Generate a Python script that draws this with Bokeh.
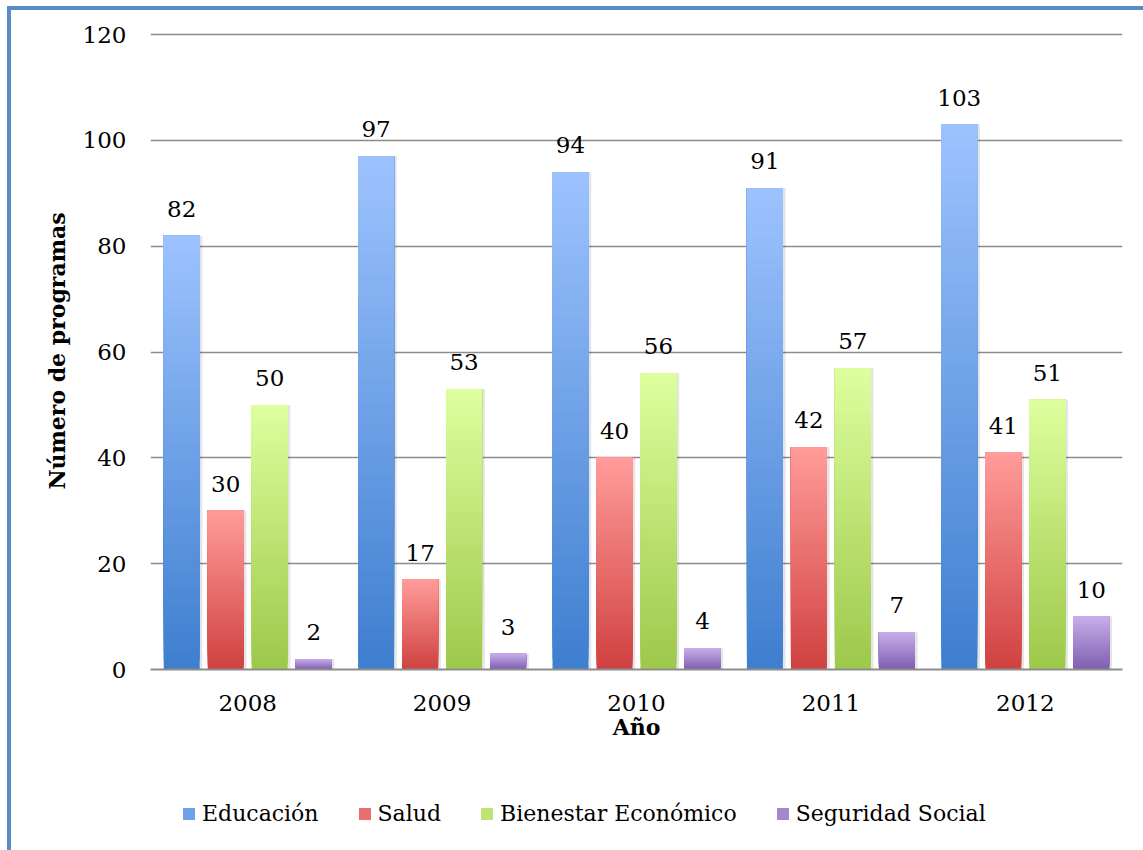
import numpy as np
from bokeh.plotting import figure
from bokeh.layouts import column
from bokeh.models import (ColumnDataSource, FactorRange, Range1d, Legend, LegendItem,
                          FixedTicker)
from bokeh.transform import dodge
from bokeh.core.properties import value
from bokeh.embed import file_html
from bokeh.resources import INLINE

# ---------------- data ----------------
years = ["2008", "2009", "2010", "2011", "2012"]
educacion = [82, 97, 94, 91, 103]
salud = [30, 17, 40, 42, 41]
bienestar = [50, 53, 56, 57, 51]
seguridad = [2, 3, 4, 7, 10]
series_names = ["Educación", "Salud", "Bienestar Económico", "Seguridad Social"]
y_ticks = [0, 20, 40, 60, 80, 100, 120]

# ---------------- style ----------------
series_values = [educacion, salud, bienestar, seguridad]
top_colors = ["#9DC3FF", "#FF9C9A", "#DDFF9E", "#C7AEEB"]
bottom_colors = ["#3E7ECE", "#D04140", "#9DC84A", "#7F5EAE"]
offsets = [-0.3395, -0.113, 0.113, 0.3395]
bar_w = 0.185
N_SLICES = 48
FONT = "DejaVu Serif"
GRID = "#8C8C8C"
FRAME_BLUE = "#5B8CC6"


def hex2rgb(h):
    h = h.lstrip("#")
    return np.array([int(h[i:i + 2], 16) for i in (0, 2, 4)], dtype=float)


def mix(c_bottom, c_top, t):
    a, b = hex2rgb(c_bottom), hex2rgb(c_top)
    c = a + (b - a) * t
    return "#%02x%02x%02x" % tuple(int(round(v)) for v in c)


x_range = FactorRange(*years, range_padding=0)
chart = figure(width=1132, height=739, x_range=x_range,
               y_range=Range1d(0, 120.4), output_backend="svg", toolbar_location=None,
               min_border_left=139, min_border_right=21, min_border_top=22,
               min_border_bottom=80)
chart.outline_line_color = None
chart.background_fill_color = "white"
chart.border_fill_color = "white"

# grid
chart.xgrid.grid_line_color = None
chart.ygrid.grid_line_color = GRID
chart.ygrid.grid_line_width = 1.6
chart.yaxis.ticker = FixedTicker(ticks=y_ticks)

# axes
chart.yaxis.axis_line_color = None
chart.yaxis.major_tick_line_color = None
chart.yaxis.minor_tick_line_color = None
chart.yaxis.major_label_standoff = 18
chart.yaxis.major_label_text_font = FONT
chart.yaxis.major_label_text_font_size = "23px"
chart.yaxis.major_label_text_color = "black"
chart.yaxis.axis_label = "Número de programas"
chart.yaxis.axis_label_text_font = FONT
chart.yaxis.axis_label_text_font_style = "bold"
chart.yaxis.axis_label_text_font_size = "22px"
chart.yaxis.axis_label_text_color = "black"
chart.yaxis.axis_label_standoff = 10

chart.xaxis.axis_line_color = GRID
chart.xaxis.axis_line_width = 2
chart.xaxis.major_tick_line_color = None
chart.xaxis.minor_tick_line_color = None
chart.xaxis.major_label_standoff = 19
chart.xaxis.major_label_text_font = FONT
chart.xaxis.major_label_text_font_size = "23px"
chart.xaxis.major_label_text_color = "black"
chart.xaxis.axis_label = "Año"
chart.xaxis.axis_label_text_font = FONT
chart.xaxis.axis_label_text_font_style = "bold"
chart.xaxis.axis_label_text_font_size = "22px"
chart.xaxis.axis_label_text_color = "black"
chart.xaxis.axis_label_standoff = 0

# legend strip below the chart
leg = figure(width=1132, height=101, x_range=x_range, y_range=Range1d(0, 1),
             output_backend="svg", toolbar_location=None,
             x_axis_location=None, y_axis_location=None, min_border=0)
leg.outline_line_color = None
leg.xgrid.grid_line_color = None
leg.ygrid.grid_line_color = None
leg.background_fill_color = "white"
leg.border_fill_color = "white"

legend_items = []
for name, vals, off, ct, cb in zip(series_names, series_values, offsets,
                                    top_colors, bottom_colors):
    # soft shadow
    sh = ColumnDataSource(dict(year=years, top=vals))
    chart.vbar(x=dodge("year", off + 0.008, range=x_range), top="top", bottom=0,
               width=bar_w + 0.012, source=sh, fill_color="#000000", fill_alpha=0.10,
               line_color=None)
    # gradient bars: layered slices, each from its own bottom up to the value
    xs, bots, tops, cols = [], [], [], []
    for yr, v in zip(years, vals):
        for i in range(N_SLICES):
            xs.append(yr)
            bots.append(v * i / N_SLICES)
            tops.append(v)
            cols.append(mix(cb, ct, (i + 0.5) / N_SLICES))
    src = ColumnDataSource(dict(year=xs, bottom=bots, top=tops, color=cols))
    chart.vbar(x=dodge("year", off, range=x_range), top="top", bottom="bottom",
               width=bar_w, source=src, fill_color="color", line_color=None)
    # legend proxy (hidden) in the legend strip
    r = leg.vbar(x=dodge("year", off, range=x_range), top="top", bottom="bottom",
                 width=bar_w, source=src, fill_color="color", line_color=None,
                 visible=False)
    legend_items.append(LegendItem(label=name, renderers=[r], index=N_SLICES // 2))
    # value labels
    lab = ColumnDataSource(dict(year=years, v=vals, t=[str(v) for v in vals]))
    chart.text(x=dodge("year", off, range=x_range), y="v", text="t", source=lab,
               text_align="center", text_baseline="alphabetic", y_offset=-27,
               text_font=value(FONT), text_font_size="23px", text_color="black")

legend = Legend(items=legend_items, location=(31, 24), orientation="horizontal",
                label_text_font=FONT, label_text_font_size="22px",
                label_text_color="black", glyph_width=15, glyph_height=15,
                label_standoff=6, spacing=38, padding=0, margin=0,
                click_policy="none",
                border_line_color=None, background_fill_alpha=0)
leg.add_layout(legend)

p = column(chart, leg, spacing=0)
p.styles = {"margin-left": "7px", "margin-top": "6px",
            "border-left": "4px solid " + FRAME_BLUE,
            "border-top": "4px solid " + FRAME_BLUE}

open("out.html", "w").write(file_html(p, INLINE))
